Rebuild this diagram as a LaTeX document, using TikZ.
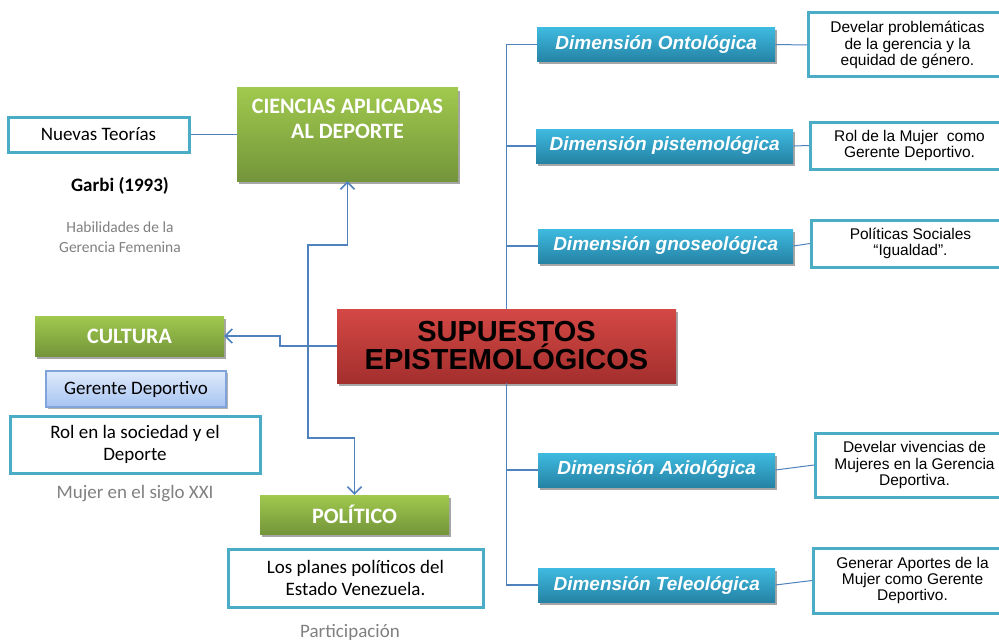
\documentclass[tikz,border=0pt]{standalone}
\usepackage{fontspec}
\setmainfont{Carlito}
\newfontfamily\arialf{Liberation Sans}
\usepackage{xcolor}
\usetikzlibrary{calc, positioning, shadows, arrows.meta}

\definecolor{conector}{HTML}{4F81BD}
\definecolor{borde}{HTML}{4BACC6}
\definecolor{verdeA}{HTML}{A0C94E}
\definecolor{verdeB}{HTML}{74953A}
\definecolor{rojoA}{HTML}{D44845}
\definecolor{rojoB}{HTML}{A32F2D}
\definecolor{cianA}{HTML}{3FBAE0}
\definecolor{cianB}{HTML}{2583A5}
\definecolor{azulA}{HTML}{E0EAFB}
\definecolor{azulB}{HTML}{A6C4F2}
\definecolor{azulborde}{HTML}{7FA3DA}
\definecolor{gris}{HTML}{808080}

\tikzset{
  sombra/.style={drop shadow={shadow xshift=2pt, shadow yshift=-3pt, fill=black!35, opacity=1}},
  titulo/.style={text=white, font=\bfseries\fontsize{22}{25.5}\selectfont, align=center, inner sep=0pt},
  cajaverde/.style={titulo, top color=verdeA, bottom color=verdeB, sombra},
  cajaroja/.style={top color=rojoA, bottom color=rojoB, sombra, align=center,
    font=\arialf\bfseries\fontsize{29}{28}\selectfont},
  dimension/.style={top color=cianA, bottom color=cianB, sombra, anchor=west, text=white,
    minimum height=34pt, font=\arialf\bfseries\itshape\fontsize{19}{22}\selectfont},
  descripcion/.style={draw=borde, line width=3pt, fill=white, anchor=west, align=center,
    minimum width=198pt, inner sep=0pt, font=\arialf\fontsize{15.5}{16.3}\selectfont},
  cajatexto/.style={draw=borde, line width=3pt, fill=white, align=center, inner sep=0pt,
    font=\fontsize{19}{22.5}\selectfont},
  cajaazul/.style={top color=azulA, bottom color=azulB, draw=azulborde, line width=1.2pt,
    drop shadow={shadow xshift=1.5pt, shadow yshift=-2pt, fill=black!30, opacity=1},
    font=\fontsize{19}{22}\selectfont},
  nota/.style={text=gris, align=center, font=\fontsize{19}{20}\selectfont},
  conector/.style={draw=conector, line width=1.5pt},
}

\begin{document}
\begin{tikzpicture}[x=1pt, y=-1pt, >={Straight Barb[length=7pt, width=14pt]}]
    \clip (0,0) rectangle (999,642);

    % Nodo central
    \node[cajaroja, minimum width=339pt, minimum height=74pt] (central) at (506.5,346)
        {SUPUESTOS\\EPISTEMOLÓGICOS};

    % Dimensiones
    \node[dimension, minimum width=238pt] (dim1) at (537,44.5) {Dimensión Ontológica};
    \node[dimension, minimum width=257pt] (dim2) at (536,146) {Dimensión pistemológica};
    \node[dimension, minimum width=255pt] (dim3) at (538,246) {Dimensión gnoseológica};
    \node[dimension, minimum width=237pt] (dim4) at (538,470) {Dimensión Axiológica};
    \node[dimension, minimum width=237pt] (dim5) at (538,585) {Dimensión Teleológica};

    \node[descripcion, minimum height=64pt] (desc1) at (807,45)
        {Develar problemáticas\\de la gerencia y la\\equidad de género.};
    \node[descripcion, minimum height=47pt] (desc2) at (809,145.5)
        {Rol de la Mujer\ \ como\\Gerente Deportivo.};
    \node[descripcion, minimum height=47pt] (desc3) at (810,243.5)
        {Políticas Sociales\\“Igualdad”.};
    \node[descripcion, minimum height=64pt] (desc4) at (814,465)
        {Develar vivencias de\\Mujeres en la Gerencia\\Deportiva.};
    \node[descripcion, minimum height=65pt] (desc5) at (812,580.5)
        {Generar Aportes de la\\Mujer como Gerente\\Deportivo.};

    \draw[conector, line width=1.8pt] (central.north) |- (dim1.west);
    \draw[conector, line width=1.8pt] (central.north) |- (dim2.west);
    \draw[conector, line width=1.8pt] (central.north) |- (dim3.west);
    \draw[conector, line width=1.8pt] (central.south) |- (dim4.west);
    \draw[conector, line width=1.8pt] (central.south) |- (dim5.west);

    \draw[conector, line width=1pt] (dim1.east) -- (desc1.west);
    \draw[conector, line width=1pt] (dim2.east) -- (desc2.west);
    \draw[conector, line width=1pt] (dim3.east) -- (desc3.west);
    \draw[conector, line width=1pt] (dim4.east) -- (desc4.west);
    \draw[conector, line width=1pt] (dim5.east) -- (desc5.west);

    % Ciencias aplicadas
    \node[cajaverde, minimum width=221pt, minimum height=93pt] (ciencias) at (347.5,134.5) {};
    \node[titulo, below=11pt of ciencias.north] (cienciastxt) {CIENCIAS APLICADAS\\AL DEPORTE};
    \node[cajatexto, minimum width=181pt, minimum height=35pt] (nuevas) at (98.5,134.5) {Nuevas Teorías};
    \draw[conector, line width=1pt] (nuevas.east) -- (ciencias.west);
    \node[font=\bfseries\fontsize{19}{22}\selectfont] (garbi) at (120,186) {Garbi (1993)};
    \node[nota, font=\fontsize{15.5}{20}\selectfont] (habilidades) at (120,237) {Habilidades de la\\Gerencia Femenina};

    % Cultura
    \node[cajaverde, minimum width=189pt, minimum height=40pt] (cultura) at (129.5,336) {CULTURA};
    \node[cajaazul, minimum width=180pt, minimum height=36pt] (gerente) at (136,389) {Gerente Deportivo};
    \node[cajatexto, minimum width=250pt, minimum height=57pt] (rol) at (135,444.5)
        {Rol en la sociedad y el\\Deporte};
    \node[nota] (siglo) at (135,494) {Mujer en el siglo XXI};

    % Politico
    \node[cajaverde, minimum width=189pt, minimum height=39pt] (politico) at (354.5,514.5) {POLÍTICO};
    \node[cajatexto, minimum width=255pt, minimum height=58pt] (planes) at (355.5,578)
        {Los planes políticos del\\Estado Venezuela.};
    \node[nota] (participacion) at (350,632) {Participación};

    % Flechas
    \draw[conector, ->] (central.west) -- (308,346) -- (308,245) -| (ciencias.south);
    \draw[conector, ->] (central.west) -- (308,346) -- (308,438) -| (politico.north);
    \draw[conector, ->] (central.west) -- (280,346) |- (cultura.east);
\end{tikzpicture}
\end{document}
